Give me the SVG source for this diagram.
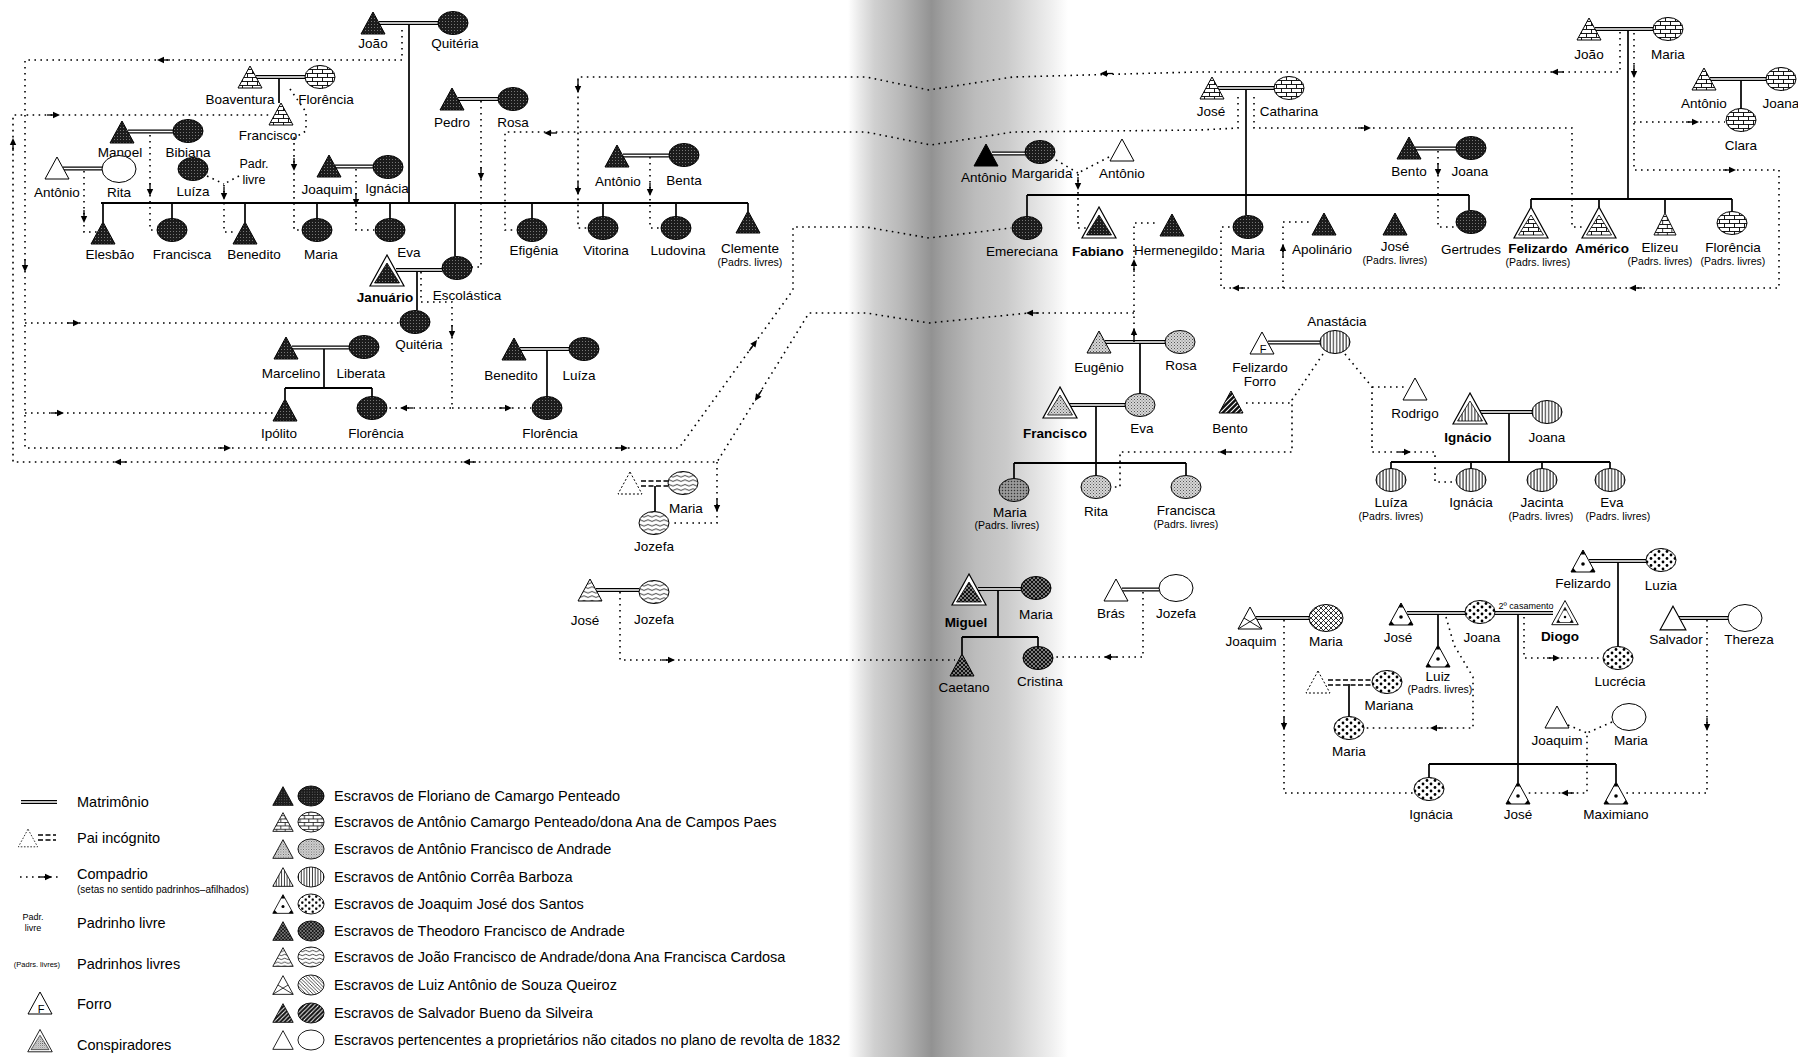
<svg xmlns="http://www.w3.org/2000/svg" width="1798" height="1057" viewBox="0 0 1798 1057">
<style>
text{font-family:"Liberation Sans",Arial,sans-serif;font-size:13.5px;text-anchor:middle;fill:#000}
.b{font-weight:bold}
.s{font-size:10.5px}
.t{font-size:9px}
.lg{font-size:14.5px;text-anchor:start}
.lgs{font-size:10px;text-anchor:start}
.dot{fill:none;stroke:#000;stroke-width:1.6;stroke-dasharray:1.6 4.4}
.sol{fill:none;stroke:#000;stroke-width:1.7}
.bar{fill:none;stroke:#000;stroke-width:2.2}
.pai{fill:none;stroke:#000;stroke-width:1.3;stroke-dasharray:5 2.5}
.F{fill:url(#pF)}.B{fill:url(#pB)}.G{fill:url(#pG)}.G2{fill:url(#pG2)}.V{fill:url(#pV)}.D{fill:url(#pD)}
.T{fill:url(#pT)}.W{fill:url(#pW)}.L{fill:url(#pL)}.X{fill:url(#pX)}.S{fill:url(#pS)}.O{fill:#fff}.K{fill:#000}
</style>
<defs>
<linearGradient id="band" x1="848" y1="0" x2="1068" y2="0" gradientUnits="userSpaceOnUse">
<stop offset="0" stop-color="#fff"/><stop offset="0.055" stop-color="#e8e8e8"/><stop offset="0.12" stop-color="#d0d0d0"/>
<stop offset="0.24" stop-color="#b8b8b8"/><stop offset="0.33" stop-color="#a0a0a0"/><stop offset="0.38" stop-color="#929292"/>
<stop offset="0.44" stop-color="#a2a2a2"/><stop offset="0.58" stop-color="#bcbcbc"/><stop offset="0.72" stop-color="#cacaca"/>
<stop offset="0.83" stop-color="#dedede"/><stop offset="0.93" stop-color="#f0f0f0"/><stop offset="1" stop-color="#fff"/>
</linearGradient>
<pattern id="pF" width="3" height="3" patternUnits="userSpaceOnUse"><rect width="3" height="3" fill="#1c1c1c"/><rect x="1" y="1" width="0.8" height="0.8" fill="#aaa"/></pattern>
<pattern id="pB" width="10" height="8" patternUnits="userSpaceOnUse"><rect width="10" height="8" fill="#fff"/><path d="M0,0.5H10M0,4.5H10M2.5,0.5V4.5M7.5,4.5V8.5" stroke="#000" stroke-width="0.9" fill="none"/></pattern>
<pattern id="pG" width="3" height="3" patternUnits="userSpaceOnUse"><rect width="3" height="3" fill="#d6d6d6"/><rect width="1" height="1" fill="#555"/><rect x="1.5" y="1.5" width="1" height="1" fill="#777"/></pattern>
<pattern id="pG2" width="3" height="3" patternUnits="userSpaceOnUse"><rect width="3" height="3" fill="#8a8a8a"/><rect width="1" height="1" fill="#333"/><rect x="1.5" y="1.5" width="1" height="1" fill="#ccc"/></pattern>
<pattern id="pV" width="3.2" height="4" patternUnits="userSpaceOnUse"><rect width="3.2" height="4" fill="#fff"/><rect x="1.2" width="0.9" height="4" fill="#000"/></pattern>
<pattern id="pD" width="8" height="7" patternUnits="userSpaceOnUse"><rect width="8" height="7" fill="#fff"/><circle cx="2" cy="2" r="1.4"/><circle cx="6" cy="5.5" r="1.4"/></pattern>
<pattern id="pT" width="4" height="4" patternUnits="userSpaceOnUse"><rect width="4" height="4" fill="#111"/><path d="M0,0L4,4M4,0L0,4" stroke="#fff" stroke-width="0.45"/></pattern>
<pattern id="pW" width="8" height="4.5" patternUnits="userSpaceOnUse"><rect width="8" height="4.5" fill="#fff"/><path d="M0,2.2Q2,0.6 4,2.2T8,2.2" stroke="#000" stroke-width="0.8" fill="none"/></pattern>
<pattern id="pL" width="4" height="4" patternUnits="userSpaceOnUse"><rect width="4" height="4" fill="#fff"/><path d="M0,0L4,4M-1,3L1,5M3,-1L5,1" stroke="#000" stroke-width="0.8"/></pattern>
<pattern id="pX" width="5" height="5" patternUnits="userSpaceOnUse"><rect width="5" height="5" fill="#fff"/><path d="M0,0L5,5M5,0L0,5" stroke="#000" stroke-width="0.8"/></pattern>
<pattern id="pS" width="5" height="5" patternUnits="userSpaceOnUse"><rect width="5" height="5" fill="#111"/><path d="M-1,1L1,-1M0,5L5,0M4,6L6,4" stroke="#fff" stroke-width="1.1"/></pattern>
<polygon id="tri" points="0,-11 -12,11 12,11" stroke="#000" stroke-width="1"/>
<ellipse id="ell" rx="15" ry="11.5" stroke="#000" stroke-width="1"/>
<ellipse id="ellB" rx="17" ry="13.5" stroke="#000" stroke-width="1"/>
<g id="con"><polygon points="0,-16 -17,15 17,15" fill="#fff" stroke="#000" stroke-width="1.2"/><polygon points="0,-8 -12.5,12 12.5,12" stroke="#000" stroke-width="0.8"/></g>
<g id="triD"><polygon points="0,-11 -12,11 12,11" fill="#fff" stroke="#000"/><circle cy="3" r="1.8"/><polygon points="0,-11 -2.4,-6.6 2.4,-6.6"/><polygon points="-12,11 -6.5,11 -9.8,7"/><polygon points="12,11 6.5,11 9.8,7"/></g>
<g id="conD"><polygon points="0,-16 -17,15 17,15" fill="#fff" stroke="#000" stroke-width="1.2"/><use href="#triD" transform="translate(0,2.5) scale(0.88)"/></g>
<g id="triL"><polygon points="0,-11 -12,11 12,11" fill="#fff" stroke="#000"/><path d="M-12,11L6,0M12,11L-6,0" stroke="#000" stroke-width="0.9" fill="none"/></g>
<g id="triR"><polygon points="0,-11 -12,11 12,11" fill="#fff" stroke="#000"/><text x="1" y="9.5" style="font-size:11px">F</text></g>
<polygon id="triU" points="0,-11 -12,11 12,11" fill="#fff" stroke="#000" stroke-dasharray="2 2"/>
<g id="ar"><path d="M0,0L-7,-3.2L-7,3.2Z"/><path d="M-13,0H-6" stroke="#000" stroke-width="1.3"/></g>
</defs>

<rect width="1798" height="1057" fill="#fff"/>
<rect x="848" y="0" width="220" height="1057" fill="url(#band)"/>

<g id="connectors">
<g stroke="#000" stroke-width="4.2" fill="none"><g id="marriages">
<path d="M379,23H438M256,77H305M128,131.5H173M63,168.5H103M335,166.5H373M458,99H498M396,270H442M292,347.5H349M520,349H569M623,155.5H669M992,153.5H1025M1218,88H1274M1415,148.5H1456M1595,29H1653M1710,79H1766M1105,342H1165M1069,405H1125M1268,342.5H1320M1479,412H1533M596,590H639M978,589H1021M1122,589.5H1159M1589,561H1646M1256,618H1309M1407,613H1465M1495,613H1553M1679,618H1728M21,802H57"/>
</g></g>
<use href="#marriages" stroke="#fff" stroke-width="1.4"/>
<path class="pai" d="M641,481H668M641,486H668M1328,680H1372M1328,685H1372M38,835H56M38,840H56"/>
<path class="sol" d="M409,25V203M279,79V103M417,272V310.5M324,349V388M547,351V396.5M655,486V511.5M1246,90V215.5M1628,31V199M1741,81V108.5M1140,344V393.5M1096,407V475.5M1509,414V462M998,591V637M1618,563V646.5M1438,615V645M1349,684V716.5M1518,615V782"/>
<path class="sol" d="M103,203V222M172,203V218.5M245,203V222M317,203V218.5M390,203V218.5M455,203V256.5M532,203V218.5M603,203V216.5M676,203V216.5M748,203V211M285,388V399M372,388V396.5M1027,195V216.5M1469,195V210.5M1531,199V207M1599,199V207M1665,199V213M1732,199V211.5M1014,463V478.5M1186,463V475.5M1391,462V468.5M1471,462V468.5M1542,462V468.5M1610,462V468.5M962,637V654M1038,637V646.5M1429,764V777.5M1616,764V782"/>
<path class="bar" d="M101,203H748M285,388H372M1027,195H1469M1531,199H1732M1014,463H1186M1391,462H1610M962,637H1038M1429,764H1616"/>
<path class="dot" d="M402,30V60H25V448H679L793,290V227H866L929,238L1011,228M25,323H399M25,413H277"/>
<path class="dot" d="M1134,342V223H1159M1134,313H1029L929,323L866,313H809L717,462H13V115H271M717,462V523H670"/>
<path class="dot" d="M290,89L306,112V131L294,138V230H301M150,135V230H156M84,171V232H97M207,176L224,184M239,176L224,184V232H236M356,169V230H374M481,101V267H472M421,272V302H452V408H388M452,408H531M650,157V228H661"/>
<path class="dot" d="M1620,32V72L1197,72L1013,77L929,90L866,77H578V228H587M1238,97V128L1200,130L1013,132L931,145L866,132H505V230H516M1254,97V128H1572V227H1585"/>
<path class="dot" d="M1634,33V170H1779V288H1221V227H1232M1634,122H1725M1283,288V222H1313M1438,151V227H1455M1056,160L1078,173M1109,157L1078,173V228H1087"/>
<path class="dot" d="M1323,354L1292,400V452H1120V487H1112M1246,403H1292M1345,354L1372,387V452H1435V482H1456M1372,387H1408"/>
<path class="dot" d="M620,592V660H955M1143,592V657H1054M1284,620V793H1414M1446,617L1454,645L1473,677V728H1365M1524,617V658H1602M1707,620V793H1626M1568,725L1587,733M1612,722L1587,733V793H1527M20,877H60"/>
<g id="arrows">
<use href="#ar" transform="translate(157,60) rotate(180)"/>
<use href="#ar" transform="translate(25,272) rotate(90)"/>
<use href="#ar" transform="translate(80,323)"/>
<use href="#ar" transform="translate(64,413)"/>
<use href="#ar" transform="translate(231,448)"/>
<use href="#ar" transform="translate(628,448)"/>
<use href="#ar" transform="translate(757,340) rotate(-54)"/>
<use href="#ar" transform="translate(1134,328) rotate(-90)"/>
<use href="#ar" transform="translate(1134,259) rotate(-90)"/>
<use href="#ar" transform="translate(1026,313) rotate(180)"/>
<use href="#ar" transform="translate(755,401) rotate(122)"/>
<use href="#ar" transform="translate(463,462) rotate(180)"/>
<use href="#ar" transform="translate(114,462) rotate(180)"/>
<use href="#ar" transform="translate(13,138) rotate(-90)"/>
<use href="#ar" transform="translate(60,115)"/>
<use href="#ar" transform="translate(717,512) rotate(90)"/>
<use href="#ar" transform="translate(294,171) rotate(90)"/>
<use href="#ar" transform="translate(150,196) rotate(90)"/>
<use href="#ar" transform="translate(84,223) rotate(90)"/>
<use href="#ar" transform="translate(224,200) rotate(90)"/>
<use href="#ar" transform="translate(356,206) rotate(90)"/>
<use href="#ar" transform="translate(481,180) rotate(90)"/>
<use href="#ar" transform="translate(452,338) rotate(90)"/>
<use href="#ar" transform="translate(400,408) rotate(180)"/>
<use href="#ar" transform="translate(512,408)"/>
<use href="#ar" transform="translate(650,196) rotate(90)"/>
<use href="#ar" transform="translate(1551,72) rotate(180)"/>
<use href="#ar" transform="translate(1100,73.5) rotate(180)"/>
<use href="#ar" transform="translate(578,93) rotate(90)"/>
<use href="#ar" transform="translate(578,195) rotate(90)"/>
<use href="#ar" transform="translate(544,133) rotate(180)"/>
<use href="#ar" transform="translate(1371,128)"/>
<use href="#ar" transform="translate(1634,78) rotate(90)"/>
<use href="#ar" transform="translate(1736,170)"/>
<use href="#ar" transform="translate(1699,122)"/>
<use href="#ar" transform="translate(1629,288) rotate(180)"/>
<use href="#ar" transform="translate(1232,288) rotate(180)"/>
<use href="#ar" transform="translate(1283,244) rotate(-90)"/>
<use href="#ar" transform="translate(1438,176) rotate(90)"/>
<use href="#ar" transform="translate(1078,190) rotate(90)"/>
<use href="#ar" transform="translate(1219,452) rotate(180)"/>
<use href="#ar" transform="translate(1411,452)"/>
<use href="#ar" transform="translate(675,660)"/>
<use href="#ar" transform="translate(1104,657) rotate(180)"/>
<use href="#ar" transform="translate(1284,730) rotate(90)"/>
<use href="#ar" transform="translate(1430,728) rotate(180)"/>
<use href="#ar" transform="translate(1560,658)"/>
<use href="#ar" transform="translate(1707,731) rotate(90)"/>
<use href="#ar" transform="translate(1561,793) rotate(180)"/>
<use href="#ar" transform="translate(52,877)"/>
</g>
</g>

<g id="nodes">
<g id="n01"><use href="#tri" class="F" x="373" y="23"/><text x="373" y="48">João</text></g>
<g id="n02"><use href="#ell" class="F" x="453" y="23"/><text x="455" y="48">Quitéria</text></g>
<g id="n03"><use href="#tri" class="B" x="250" y="77"/><text x="240" y="104">Boaventura</text></g>
<g id="n04"><use href="#ell" class="B" x="320" y="77"/><text x="326" y="104">Florência</text></g>
<g id="n05"><use href="#tri" class="B" x="281" y="114"/><text x="268" y="140">Francisco</text></g>
<g id="n06"><use href="#tri" class="F" x="122" y="132"/><text x="120" y="157">Manoel</text></g>
<g id="n07"><use href="#ell" class="F" x="188" y="131"/><text x="188" y="157">Bibiana</text></g>
<g id="n08"><use href="#tri" class="O" x="57" y="168"/><text x="57" y="197">Antônio</text></g>
<g id="n09"><use href="#ellB" class="O" x="119" y="169"/><text x="119" y="197">Rita</text></g>
<g id="n10"><use href="#ell" class="F" x="193" y="169"/><text x="193" y="196">Luíza</text></g>
<g id="n11"><text x="254" y="168" style="font-size:12.5px">Padr.</text><text x="254" y="184" style="font-size:12.5px">livre</text></g>
<g id="n12"><use href="#tri" class="F" x="329" y="166"/><text x="327" y="194">Joaquim</text></g>
<g id="n13"><use href="#ell" class="F" x="388" y="167"/><text x="387" y="193">Ignácia</text></g>
<g id="n14"><use href="#tri" class="F" x="452" y="99"/><text x="452" y="127">Pedro</text></g>
<g id="n15"><use href="#ell" class="F" x="513" y="99"/><text x="513" y="127">Rosa</text></g>
<g id="n16"><use href="#tri" class="F" x="103" y="233"/><text x="110" y="259">Elesbão</text></g>
<g id="n17"><use href="#ell" class="F" x="172" y="230"/><text x="182" y="259">Francisca</text></g>
<g id="n18"><use href="#tri" class="F" x="245" y="233"/><text x="254" y="259">Benedito</text></g>
<g id="n19"><use href="#ell" class="F" x="317" y="230"/><text x="321" y="259">Maria</text></g>
<g id="n20"><use href="#ell" class="F" x="390" y="230"/><text x="409" y="257">Eva</text></g>
<g id="n21"><use href="#ell" class="F" x="532" y="230"/><text x="534" y="255">Efigênia</text></g>
<g id="n22"><use href="#ell" class="F" x="603" y="228"/><text x="606" y="255">Vitorina</text></g>
<g id="n23"><use href="#ell" class="F" x="676" y="228"/><text x="678" y="255">Ludovina</text></g>
<g id="n24"><use href="#tri" class="F" x="748" y="222"/><text x="750" y="253">Clemente</text><text class="s" x="750" y="266">(Padrs. livres)</text></g>
<g id="n25"><use href="#con" class="F" x="387" y="271"/><text class="b" x="385" y="302">Januário</text></g>
<g id="n26"><use href="#ell" class="F" x="457" y="268"/><text x="467" y="300">Escolástica</text></g>
<g id="n27"><use href="#ell" class="F" x="415" y="322"/><text x="419" y="349">Quitéria</text></g>
<g id="n28"><use href="#tri" class="F" x="286" y="348"/><text x="291" y="378">Marcelino</text></g>
<g id="n29"><use href="#ell" class="F" x="364" y="347"/><text x="361" y="378">Liberata</text></g>
<g id="n30"><use href="#tri" class="F" x="285" y="410"/><text x="279" y="438">Ipólito</text></g>
<g id="n31"><use href="#ell" class="F" x="372" y="408"/><text x="376" y="438">Florência</text></g>
<g id="n32"><use href="#tri" class="F" x="514" y="349"/><text x="511" y="380">Benedito</text></g>
<g id="n33"><use href="#ell" class="F" x="584" y="349"/><text x="579" y="380">Luíza</text></g>
<g id="n34"><use href="#ell" class="F" x="547" y="408"/><text x="550" y="438">Florência</text></g>
<g id="n35"><use href="#triU" x="630" y="483"/></g>
<g id="n36"><use href="#ell" class="W" x="683" y="483"/><text x="686" y="513">Maria</text></g>
<g id="n37"><use href="#ell" class="W" x="654" y="523"/><text x="654" y="551">Jozefa</text></g>
<g id="n38"><use href="#tri" class="F" x="617" y="156"/><text x="618" y="186">Antônio</text></g>
<g id="n39"><use href="#ell" class="F" x="684" y="155"/><text x="684" y="185">Benta</text></g>
<g id="n40"><use href="#tri" class="K" x="986" y="155"/><text x="984" y="182">Antônio</text></g>
<g id="n41"><use href="#ell" class="F" x="1040" y="152"/><text x="1042" y="178">Margarida</text></g>
<g id="n42"><use href="#tri" class="O" x="1122" y="150"/><text x="1122" y="178">Antônio</text></g>
<g id="n43"><use href="#tri" class="B" x="1212" y="88"/><text x="1211" y="116">José</text></g>
<g id="n44"><use href="#ell" class="B" x="1289" y="88"/><text x="1289" y="116">Catharina</text></g>
<g id="n45"><use href="#ell" class="F" x="1027" y="228"/><text x="1022" y="256">Emereciana</text></g>
<g id="n46"><use href="#con" class="F" x="1099" y="223"/><text class="b" x="1098" y="256">Fabiano</text></g>
<g id="n47"><use href="#tri" class="F" x="1172" y="225"/><text x="1176" y="255">Hermenegildo</text></g>
<g id="n48"><use href="#ell" class="F" x="1248" y="227"/><text x="1248" y="255">Maria</text></g>
<g id="n49"><use href="#tri" class="F" x="1324" y="224"/><text x="1322" y="254">Apolinário</text></g>
<g id="n50"><use href="#tri" class="F" x="1395" y="224"/><text x="1395" y="251">José</text><text class="s" x="1395" y="264">(Padrs. livres)</text></g>
<g id="n51"><use href="#ell" class="F" x="1471" y="222"/><text x="1471" y="254">Gertrudes</text></g>
<g id="n52"><use href="#tri" class="F" x="1409" y="148"/><text x="1409" y="176">Bento</text></g>
<g id="n53"><use href="#ell" class="F" x="1471" y="148"/><text x="1470" y="176">Joana</text></g>
<g id="n54"><use href="#tri" class="B" x="1589" y="29"/><text x="1589" y="59">João</text></g>
<g id="n55"><use href="#ell" class="B" x="1668" y="29"/><text x="1668" y="59">Maria</text></g>
<g id="n56"><use href="#con" class="B" x="1531" y="223"/><text class="b" x="1538" y="253">Felizardo</text><text class="s" x="1538" y="266">(Padrs. livres)</text></g>
<g id="n57"><use href="#con" class="B" x="1599" y="223"/><text class="b" x="1602" y="253">Américo</text></g>
<g id="n58"><use href="#tri" class="B" transform="translate(1665,224) scale(0.92,1)"/><text x="1660" y="252">Elizeu</text><text class="s" x="1660" y="265">(Padrs. livres)</text></g>
<g id="n59"><use href="#ell" class="B" x="1732" y="223"/><text x="1733" y="252">Florência</text><text class="s" x="1733" y="265">(Padrs. livres)</text></g>
<g id="n60"><use href="#tri" class="B" x="1704" y="79"/><text x="1704" y="108">Antônio</text></g>
<g id="n61"><use href="#ell" class="B" x="1781" y="79"/><text x="1781" y="108">Joana</text></g>
<g id="n62"><use href="#ell" class="B" x="1741" y="120"/><text x="1741" y="150">Clara</text></g>
<g id="n63"><use href="#tri" class="G" x="1099" y="342"/><text x="1099" y="372">Eugênio</text></g>
<g id="n64"><use href="#ell" class="G" x="1180" y="342"/><text x="1181" y="370">Rosa</text></g>
<g id="n65"><use href="#ell" class="G" x="1140" y="405"/><text x="1142" y="433">Eva</text></g>
<g id="n66"><use href="#con" class="G" x="1060" y="403"/><text class="b" x="1055" y="438">Francisco</text></g>
<g id="n67"><use href="#ell" class="G2" x="1014" y="490"/><text x="1010" y="517">Maria</text><text class="s" x="1007" y="529">(Padrs. livres)</text></g>
<g id="n68"><use href="#ell" class="G" x="1096" y="487"/><text x="1096" y="516">Rita</text></g>
<g id="n69"><use href="#ell" class="G" x="1186" y="487"/><text x="1186" y="515">Francisca</text><text class="s" x="1186" y="528">(Padrs. livres)</text></g>
<g id="n70"><use href="#triR" x="1262" y="343"/><text x="1260" y="372">Felizardo</text><text x="1260" y="386">Forro</text></g>
<g id="n71"><use href="#ell" class="V" x="1335" y="342"/><text x="1337" y="326">Anastácia</text></g>
<g id="n72"><use href="#tri" class="S" x="1231" y="402"/><text x="1230" y="433">Bento</text></g>
<g id="n73"><use href="#tri" class="O" x="1415" y="389"/><text x="1415" y="418">Rodrigo</text></g>
<g id="n74"><use href="#con" class="V" x="1470" y="409"/><text class="b" x="1468" y="442">Ignácio</text></g>
<g id="n75"><use href="#ell" class="V" x="1547" y="412"/><text x="1547" y="442">Joana</text></g>
<g id="n76"><use href="#ell" class="V" x="1391" y="480"/><text x="1391" y="507">Luíza</text><text class="s" x="1391" y="520">(Padrs. livres)</text></g>
<g id="n77"><use href="#ell" class="V" x="1471" y="480"/><text x="1471" y="507">Ignácia</text></g>
<g id="n78"><use href="#ell" class="V" x="1542" y="480"/><text x="1542" y="507">Jacinta</text><text class="s" x="1541" y="520">(Padrs. livres)</text></g>
<g id="n79"><use href="#ell" class="V" x="1610" y="480"/><text x="1612" y="507">Eva</text><text class="s" x="1618" y="520">(Padrs. livres)</text></g>
<g id="n80"><use href="#tri" class="W" x="590" y="590"/><text x="585" y="625">José</text></g>
<g id="n81"><use href="#ell" class="W" x="654" y="592"/><text x="654" y="624">Jozefa</text></g>
<g id="n82"><use href="#con" class="T" x="969" y="590"/><text class="b" x="966" y="627">Miguel</text></g>
<g id="n83"><use href="#ell" class="T" x="1036" y="588"/><text x="1036" y="619">Maria</text></g>
<g id="n84"><use href="#tri" class="T" x="962" y="665"/><text x="964" y="692">Caetano</text></g>
<g id="n85"><use href="#ell" class="T" x="1038" y="658"/><text x="1040" y="686">Cristina</text></g>
<g id="n86"><use href="#tri" class="O" x="1116" y="590"/><text x="1111" y="618">Brás</text></g>
<g id="n87"><use href="#ellB" class="O" x="1176" y="588"/><text x="1176" y="618">Jozefa</text></g>
<g id="n88"><use href="#triD" x="1583" y="561"/><text x="1583" y="588">Felizardo</text></g>
<g id="n89"><use href="#ell" class="D" x="1661" y="560"/><text x="1661" y="590">Luzia</text></g>
<g id="n90"><use href="#ell" class="D" x="1618" y="658"/><text x="1620" y="686">Lucrécia</text></g>
<g id="n91"><use href="#triL" x="1250" y="618"/><text x="1251" y="646">Joaquim</text></g>
<g id="n92"><use href="#ellB" class="X" x="1326" y="618"/><text x="1326" y="646">Maria</text></g>
<g id="n93"><use href="#triD" x="1401" y="614"/><text x="1398" y="642">José</text></g>
<g id="n94"><use href="#ell" class="D" x="1480" y="612"/><text x="1482" y="642">Joana</text><text class="t" x="1526" y="609">2º casamento</text></g>
<g id="n95"><use href="#conD" transform="translate(1565,613) scale(0.78)"/><text class="b" x="1560" y="641">Diogo</text></g>
<g id="n96"><use href="#triD" x="1438" y="656"/><text x="1438" y="681">Luiz</text><text class="s" x="1440" y="693">(Padrs. livres)</text></g>
<g id="n97"><use href="#triU" x="1318" y="682"/></g>
<g id="n98"><use href="#ell" class="D" x="1387" y="682"/><text x="1389" y="710">Mariana</text></g>
<g id="n99"><use href="#ell" class="D" x="1349" y="728"/><text x="1349" y="756">Maria</text></g>
<g id="n100"><use href="#ell" class="D" x="1429" y="789"/><text x="1431" y="819">Ignácia</text></g>
<g id="n101"><use href="#triD" x="1518" y="793"/><text x="1518" y="819">José</text></g>
<g id="n102"><use href="#triD" x="1616" y="793"/><text x="1616" y="819">Maximiano</text></g>
<g id="n103"><use href="#tri" class="O" transform="translate(1673,618) scale(1.08)"/><text x="1676" y="644">Salvador</text></g>
<g id="n104"><use href="#ellB" class="O" x="1745" y="618"/><text x="1749" y="644">Thereza</text></g>
<g id="n105"><use href="#tri" class="O" x="1557" y="717"/><text x="1557" y="745">Joaquim</text></g>
<g id="n106"><use href="#ellB" class="O" x="1629" y="717"/><text x="1631" y="745">Maria</text></g>
</g>

<g id="legend">
<text class="lg" x="77" y="807">Matrimônio</text>
<use href="#triU" transform="translate(28,838) scale(0.8)"/>
<text class="lg" x="77" y="843">Pai incógnito</text>
<text class="lg" x="77" y="879">Compadrio</text>
<text class="lgs" x="77" y="893">(setas no sentido padrinhos–afilhados)</text>
<text x="33" y="920" style="font-size:9px">Padr.</text>
<text x="33" y="931" style="font-size:9px">livre</text>
<text class="lg" x="77" y="928">Padrinho livre</text>
<text x="37" y="967" style="font-size:7.5px">(Padrs. livres)</text>
<text class="lg" x="77" y="969">Padrinhos livres</text>
<use href="#triR" x="40" y="1003"/>
<text class="lg" x="77" y="1009">Forro</text>
<use href="#con" class="G" transform="translate(40,1041) scale(0.72)"/>
<text class="lg" x="77" y="1050">Conspiradores</text>
<use href="#tri" class="F" transform="translate(283,796) scale(0.85)"/><use href="#ell" class="F" transform="translate(311,796) scale(0.87)"/>
<text class="lg" x="334" y="801">Escravos de Floriano de Camargo Penteado</text>
<use href="#tri" class="B" transform="translate(283,822) scale(0.85)"/><use href="#ell" class="B" transform="translate(311,822) scale(0.87)"/>
<text class="lg" x="334" y="827">Escravos de Antônio Camargo Penteado/dona Ana de Campos Paes</text>
<use href="#tri" class="G" transform="translate(283,849) scale(0.85)"/><use href="#ell" class="G" transform="translate(311,849) scale(0.87)"/>
<text class="lg" x="334" y="854">Escravos de Antônio Francisco de Andrade</text>
<use href="#tri" class="V" transform="translate(283,877) scale(0.85)"/><use href="#ell" class="V" transform="translate(311,877) scale(0.87)"/>
<text class="lg" x="334" y="882">Escravos de Antônio Corrêa Barboza</text>
<use href="#triD" transform="translate(283,904) scale(0.85)"/><use href="#ell" class="D" transform="translate(311,904) scale(0.87)"/>
<text class="lg" x="334" y="909">Escravos de Joaquim José dos Santos</text>
<use href="#tri" class="T" transform="translate(283,931) scale(0.85)"/><use href="#ell" class="T" transform="translate(311,931) scale(0.87)"/>
<text class="lg" x="334" y="936">Escravos de Theodoro Francisco de Andrade</text>
<use href="#tri" class="W" transform="translate(283,957) scale(0.85)"/><use href="#ell" class="W" transform="translate(311,957) scale(0.87)"/>
<text class="lg" x="334" y="962">Escravos de João Francisco de Andrade/dona Ana Francisca Cardosa</text>
<use href="#triL" transform="translate(283,985) scale(0.85)"/><use href="#ell" class="L" transform="translate(311,985) scale(0.87)"/>
<text class="lg" x="334" y="990">Escravos de Luiz Antônio de Souza Queiroz</text>
<use href="#tri" class="S" transform="translate(283,1013) scale(0.85)"/><use href="#ell" class="S" transform="translate(311,1013) scale(0.87)"/>
<text class="lg" x="334" y="1018">Escravos de Salvador Bueno da Silveira</text>
<use href="#tri" class="O" transform="translate(283,1040) scale(0.85)"/><use href="#ell" class="O" transform="translate(311,1040) scale(0.87)"/>
<text class="lg" x="334" y="1045">Escravos pertencentes a proprietários não citados no plano de revolta de 1832</text>
</g>
</svg>
